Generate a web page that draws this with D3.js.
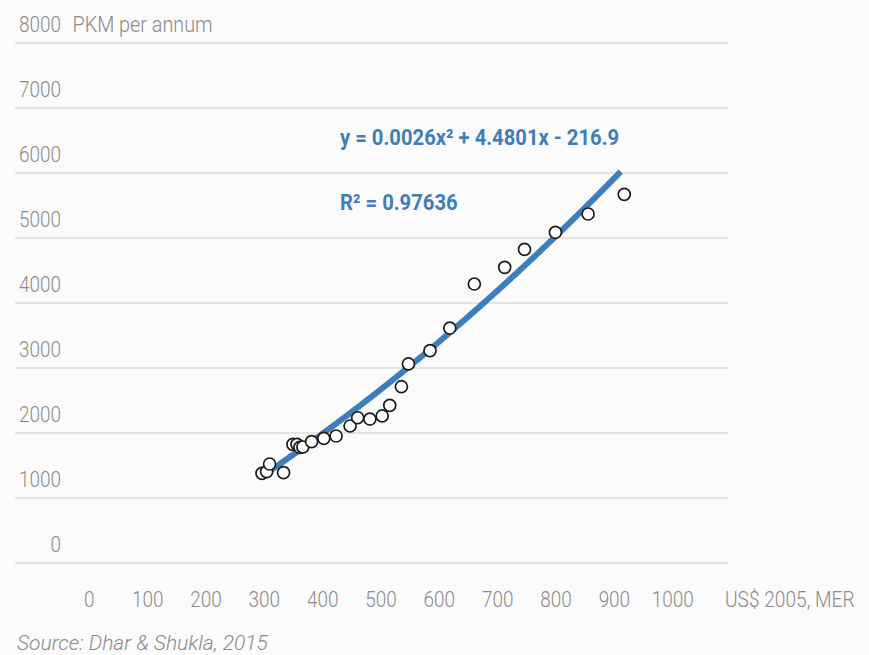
<!DOCTYPE html>
<html><head><meta charset="utf-8">
<script src="https://cdn.jsdelivr.net/npm/d3@7/dist/d3.min.js"></script>
<style>
html,body{margin:0;padding:0;background:#fbfbfb;}
svg{display:block;}
text{font-family:Roboto,"Noto Sans",sans-serif;}
</style></head>
<body>
<svg id="chart" width="869" height="655"></svg>
<script>
// GDP per capita (US$ 2005, MER)
const gdp = [296, 304, 309, 333, 349, 356, 361, 366, 381, 402, 423, 447, 460, 481, 502, 515, 535, 547, 584, 618, 660, 712, 746, 799, 855, 917];
// Passenger km per annum
const pkm = [1380, 1405, 1523, 1389, 1826, 1826, 1780, 1785, 1866, 1918, 1954, 2108, 2235, 2215, 2262, 2426, 2712, 3062, 3266, 3615, 4292, 4549, 4826, 5088, 5369, 5672];
// Polynomial trend line y = a x^2 + b x + c
const trendCoef = [0.0026, 4.4801, -216.9];
const trendRange = [293, 911];
const xTicks = [0, 100, 200, 300, 400, 500, 600, 700, 800, 900, 1000];
const yTicks = [0, 1000, 2000, 3000, 4000, 5000, 6000, 7000, 8000];
const yTitle = "PKM per annum";
const xTitle = "US$ 2005, MER";
const eqText = "y = 0.0026x² + 4.4801x - 216.9";
const r2Text = "R² = 0.97636";
const source = "Source: Dhar & Shukla, 2015";

const svg = d3.select("#chart");
const x = d3.scaleLinear().domain([0, 1000]).range([89.3, 672.7]);
const y = d3.scaleLinear().domain([0, 8000]).range([563, 43]);
const gray = "#8a8a8a", blue = "#3f7dbb";
const SX = 0.86;

function label(g, tx, ty, str, opts) {
  return g.append("text")
    .attr("transform", `translate(${tx},${ty}) scale(${opts.sx || SX},1)`)
    .attr("text-anchor", opts.anchor || "start")
    .attr("font-size", opts.size || 22)
    .attr("font-weight", opts.weight || 300)
    .attr("font-style", opts.style || "normal")
    .attr("fill", opts.fill || gray)
    .text(str);
}

// gridlines
svg.append("g").selectAll("line").data(yTicks).join("line")
  .attr("x1", 15).attr("x2", 728)
  .attr("y1", d => y(d)).attr("y2", d => y(d))
  .attr("stroke", "#dcdcdc").attr("stroke-width", 1.5);

// y tick labels
const gy = svg.append("g");
yTicks.forEach(d => label(gy, 61, y(d) - 11, d, {anchor: "end"}));
label(gy, 72.5, y(8000) - 11, yTitle, {sx: 0.9});

// x tick labels
const gx = svg.append("g");
xTicks.forEach(d => label(gx, x(d), 607, d, {anchor: "middle"}));
label(gx, 725, 607, xTitle, {sx: 0.87});

// source
label(svg, 17, 649.5, source, {style: "italic", size: 21, sx: 1.0});

// trend line
const fit = v => trendCoef[0] * v * v + trendCoef[1] * v + trendCoef[2];
const xs = d3.range(trendRange[0], trendRange[1], 2).concat([trendRange[1]]);
svg.append("path")
  .attr("d", d3.line().x(v => x(v)).y(v => y(fit(v)))(xs))
  .attr("fill", "none").attr("stroke", blue).attr("stroke-width", 6);

// points
svg.append("g").selectAll("circle").data(gdp.map((g, i) => [g, pkm[i]])).join("circle")
  .attr("cx", d => x(d[0])).attr("cy", d => y(d[1])).attr("r", 6)
  .attr("fill", "#ffffff").attr("stroke", "#1a1a1a").attr("stroke-width", 1.7);

// equation annotations
const ge = svg.append("g");
label(ge, 340, 145, eqText, {weight: 700, size: 22, fill: blue, sx: 0.92});
label(ge, 340, 210, r2Text, {weight: 700, size: 22, fill: blue, sx: 0.92});
</script>
</body></html>
